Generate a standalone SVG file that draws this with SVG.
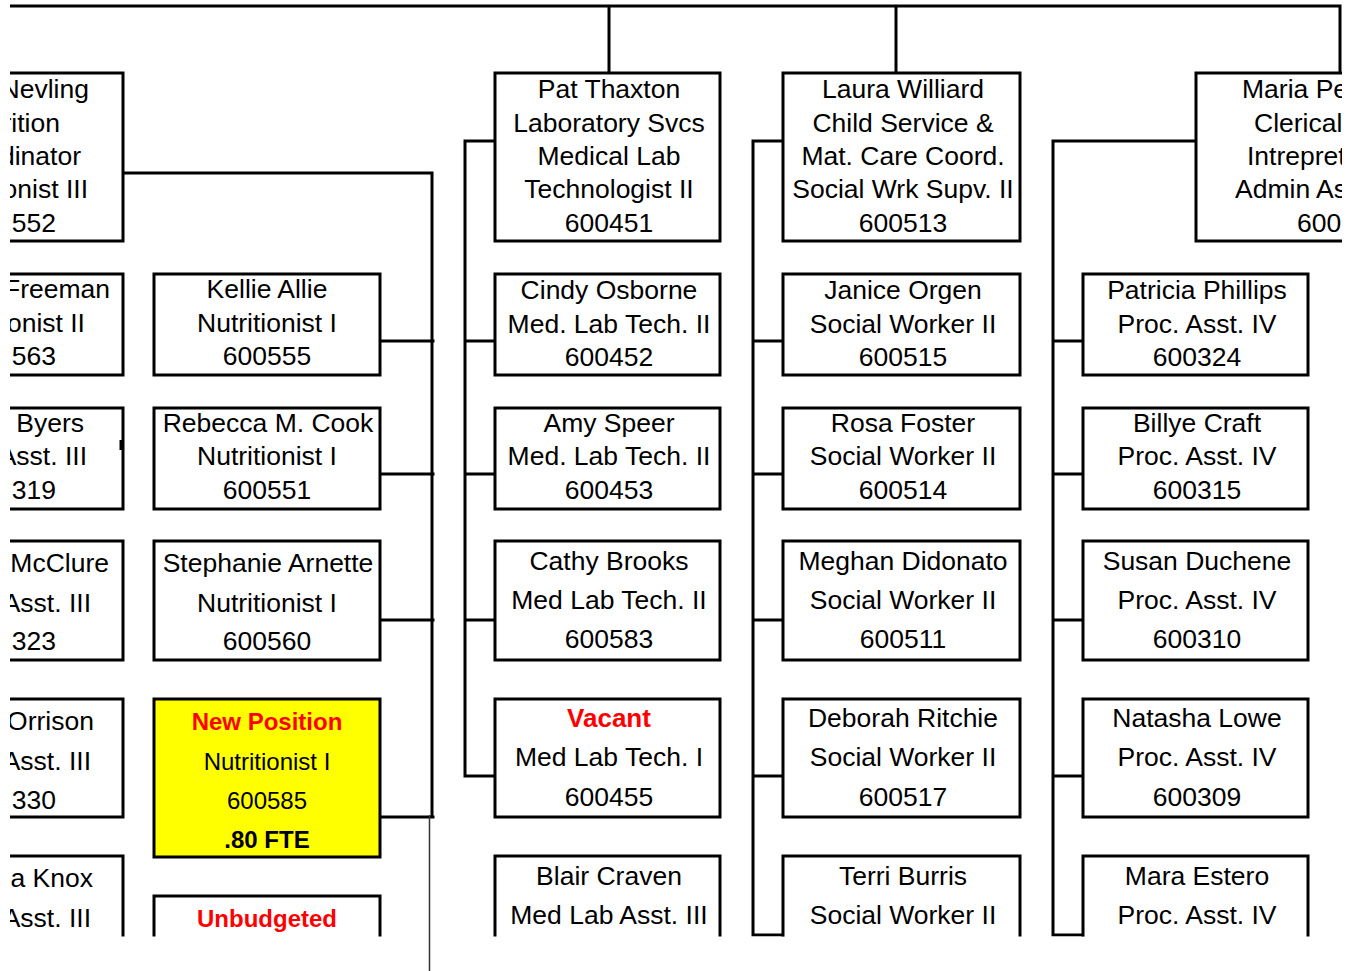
<svg xmlns="http://www.w3.org/2000/svg" width="1355" height="971" viewBox="0 0 1355 971">
  <style>
    .box { fill: #fff; stroke: #000; stroke-width: 3; }
    .yellow { fill: #ffff00; }
    .ln { stroke: #000; stroke-width: 3; fill: none; stroke-linecap: square; }
    .thin { stroke: #333; stroke-width: 1.5; fill: none; }
    text { font-family: "Liberation Sans", Arial, sans-serif; font-size: 26.5px; fill: #000; }
    .c { text-anchor: middle; }
    .e { text-anchor: end; }
    .s { text-anchor: start; }
    .b { font-weight: bold; font-size: 24px; }
    .b26 { font-weight: bold; font-size: 26px; }
    .m { font-size: 24px; }
    .red { fill: #ff0000; }
  </style>
  <defs>
    <clipPath id="page">
      <rect x="10" y="0" width="1332" height="936.5"/>
    </clipPath>
  </defs>

  <g clip-path="url(#page)">
    <!-- connectors -->
    <g id="connectors">
      <!-- top bar and drops -->
      <path class="ln" d="M10 6 H1340 M609 6 V73 M896 6 V73 M1340 6 V73"/>
      <!-- nutrition branch -->
      <path class="ln" d="M123 173 H432 V817 M380 341 H433 M380 474 H433 M380 620 H433 M380 817 H433"/>
      <!-- laboratory branch -->
      <path class="ln" d="M495 141 H465 V776 H495 M465 341 H495 M465 474 H495 M465 620 H495"/>
      <!-- social work branch -->
      <path class="ln" d="M783 141 H753 V935 H783 M753 341 H783 M753 474 H783 M753 620 H783 M753 776 H783"/>
      <!-- clerical branch -->
      <path class="ln" d="M1196 141 H1053 V935 H1083 M1053 341 H1083 M1053 474 H1083 M1053 620 H1083 M1053 776 H1083"/>
    </g>

    <!-- left column (partially off page) -->
    <g id="nevling">
      <rect class="box" x="-103" y="73" width="226" height="168"/>
      <text class="e" x="89" y="98">Nevling</text>
      <text class="e" x="60" y="132">rition</text>
      <text class="e" x="81" y="165">dinator</text>
      <text class="e" x="88" y="198">onist III</text>
      <text class="e" x="56" y="232">552</text>
    </g>
    <g id="freeman">
      <rect class="box" x="-103" y="274" width="226" height="101"/>
      <text class="e" x="110" y="298">Freeman</text>
      <text class="e" x="85" y="332">onist II</text>
      <text class="e" x="56" y="365">563</text>
    </g>
    <g id="byers">
      <rect class="box" x="-103" y="408" width="226" height="101"/>
      <rect x="119.5" y="440" width="2.5" height="10" fill="#000"/>
      <text class="e" x="84" y="432">Byers</text>
      <text class="e" x="87" y="465">Asst. III</text>
      <text class="e" x="56" y="499">319</text>
    </g>
    <g id="mcclure">
      <rect class="box" x="-103" y="541" width="226" height="119"/>
      <text class="e" x="109" y="572">McClure</text>
      <text class="e" x="91" y="612">Asst. III</text>
      <text class="e" x="56" y="650">323</text>
    </g>
    <g id="orrison">
      <rect class="box" x="-103" y="699" width="226" height="118"/>
      <text class="e" x="94" y="730">Orrison</text>
      <text class="e" x="91" y="770">Asst. III</text>
      <text class="e" x="56" y="809">330</text>
    </g>
    <g id="knox">
      <rect class="box" x="-103" y="856" width="226" height="120"/>
      <text class="e" x="93" y="887">a Knox</text>
      <text class="e" x="91" y="927">Asst. III</text>
    </g>

    <!-- nutritionists -->
    <g id="kellie-allie">
      <rect class="box" x="154" y="274" width="226" height="101"/>
      <text class="c" x="267" y="298">Kellie Allie</text>
      <text class="c" x="267" y="332">Nutritionist I</text>
      <text class="c" x="267" y="365">600555</text>
    </g>
    <g id="rebecca-cook">
      <rect class="box" x="154" y="408" width="226" height="101"/>
      <text class="c" x="268" y="432">Rebecca M. Cook</text>
      <text class="c" x="267" y="465">Nutritionist I</text>
      <text class="c" x="267" y="499">600551</text>
    </g>
    <g id="stephanie-arnette">
      <rect class="box" x="154" y="541" width="226" height="119"/>
      <text class="c" x="268" y="572">Stephanie Arnette</text>
      <text class="c" x="267" y="612">Nutritionist I</text>
      <text class="c" x="267" y="650">600560</text>
    </g>
    <g id="new-position">
      <rect class="box yellow" x="154" y="699" width="226" height="158"/>
      <text class="c b red" x="267" y="730">New Position</text>
      <text class="c m" x="267" y="770">Nutritionist I</text>
      <text class="c m" x="267" y="809">600585</text>
      <text class="c b" x="267" y="848">.80 FTE</text>
    </g>
    <g id="unbudgeted">
      <rect class="box" x="154" y="896" width="226" height="80"/>
      <text class="c b red" x="267" y="927">Unbudgeted</text>
    </g>

    <!-- laboratory -->
    <g id="pat-thaxton">
      <rect class="box" x="495" y="73" width="225" height="168"/>
      <text class="c" x="609" y="98">Pat Thaxton</text>
      <text class="c" x="609" y="132">Laboratory Svcs</text>
      <text class="c" x="609" y="165">Medical Lab</text>
      <text class="c" x="609" y="198">Technologist II</text>
      <text class="c" x="609" y="232">600451</text>
    </g>
    <g id="cindy-osborne">
      <rect class="box" x="495" y="274" width="225" height="101"/>
      <text class="c" x="609" y="299">Cindy Osborne</text>
      <text class="c" x="609" y="333">Med. Lab Tech. II</text>
      <text class="c" x="609" y="366">600452</text>
    </g>
    <g id="amy-speer">
      <rect class="box" x="495" y="408" width="225" height="101"/>
      <text class="c" x="609" y="432">Amy Speer</text>
      <text class="c" x="609" y="465">Med. Lab Tech. II</text>
      <text class="c" x="609" y="499">600453</text>
    </g>
    <g id="cathy-brooks">
      <rect class="box" x="495" y="541" width="225" height="119"/>
      <text class="c" x="609" y="570">Cathy Brooks</text>
      <text class="c" x="609" y="609">Med Lab Tech. II</text>
      <text class="c" x="609" y="648">600583</text>
    </g>
    <g id="vacant-lab">
      <rect class="box" x="495" y="699" width="225" height="118"/>
      <text class="c b26 red" x="609" y="727">Vacant</text>
      <text class="c" x="609" y="766">Med Lab Tech. I</text>
      <text class="c" x="609" y="806">600455</text>
    </g>
    <g id="blair-craven">
      <rect class="box" x="495" y="856" width="225" height="120"/>
      <text class="c" x="609" y="885">Blair Craven</text>
      <text class="c" x="609" y="924">Med Lab Asst. III</text>
    </g>

    <!-- social work -->
    <g id="laura-williard">
      <rect class="box" x="783" y="73" width="237" height="168"/>
      <text class="c" x="903" y="98">Laura Williard</text>
      <text class="c" x="903" y="132">Child Service &amp;</text>
      <text class="c" x="903" y="165">Mat. Care Coord.</text>
      <text class="c" x="903" y="198">Social Wrk Supv. II</text>
      <text class="c" x="903" y="232">600513</text>
    </g>
    <g id="janice-orgen">
      <rect class="box" x="783" y="274" width="237" height="101"/>
      <text class="c" x="903" y="299">Janice Orgen</text>
      <text class="c" x="903" y="333">Social Worker II</text>
      <text class="c" x="903" y="366">600515</text>
    </g>
    <g id="rosa-foster">
      <rect class="box" x="783" y="408" width="237" height="101"/>
      <text class="c" x="903" y="432">Rosa Foster</text>
      <text class="c" x="903" y="465">Social Worker II</text>
      <text class="c" x="903" y="499">600514</text>
    </g>
    <g id="meghan-didonato">
      <rect class="box" x="783" y="541" width="237" height="119"/>
      <text class="c" x="903" y="570">Meghan Didonato</text>
      <text class="c" x="903" y="609">Social Worker II</text>
      <text class="c" x="903" y="648">600511</text>
    </g>
    <g id="deborah-ritchie">
      <rect class="box" x="783" y="699" width="237" height="118"/>
      <text class="c" x="903" y="727">Deborah Ritchie</text>
      <text class="c" x="903" y="766">Social Worker II</text>
      <text class="c" x="903" y="806">600517</text>
    </g>
    <g id="terri-burris">
      <rect class="box" x="783" y="856" width="237" height="120"/>
      <text class="c" x="903" y="885">Terri Burris</text>
      <text class="c" x="903" y="924">Social Worker II</text>
    </g>

    <!-- clerical -->
    <g id="maria">
      <rect class="box" x="1196" y="73" width="226" height="168"/>
      <text class="s" x="1242" y="98">Maria Pe</text>
      <text class="s" x="1254" y="132">Clerical</text>
      <text class="s" x="1247" y="165">Intrepret</text>
      <text class="s" x="1235" y="198">Admin As</text>
      <text class="s" x="1297" y="232">600</text>
    </g>
    <g id="patricia-phillips">
      <rect class="box" x="1083" y="274" width="225" height="101"/>
      <text class="c" x="1197" y="299">Patricia Phillips</text>
      <text class="c" x="1197" y="333">Proc. Asst. IV</text>
      <text class="c" x="1197" y="366">600324</text>
    </g>
    <g id="billye-craft">
      <rect class="box" x="1083" y="408" width="225" height="101"/>
      <text class="c" x="1197" y="432">Billye Craft</text>
      <text class="c" x="1197" y="465">Proc. Asst. IV</text>
      <text class="c" x="1197" y="499">600315</text>
    </g>
    <g id="susan-duchene">
      <rect class="box" x="1083" y="541" width="225" height="119"/>
      <text class="c" x="1197" y="570">Susan Duchene</text>
      <text class="c" x="1197" y="609">Proc. Asst. IV</text>
      <text class="c" x="1197" y="648">600310</text>
    </g>
    <g id="natasha-lowe">
      <rect class="box" x="1083" y="699" width="225" height="118"/>
      <text class="c" x="1197" y="727">Natasha Lowe</text>
      <text class="c" x="1197" y="766">Proc. Asst. IV</text>
      <text class="c" x="1197" y="806">600309</text>
    </g>
    <g id="mara-estero">
      <rect class="box" x="1083" y="856" width="225" height="120"/>
      <text class="c" x="1197" y="885">Mara Estero</text>
      <text class="c" x="1197" y="924">Proc. Asst. IV</text>
    </g>
  </g>

  <!-- thin continuation line below the nutrition branch -->
  <g id="connectors-lower">
    <line class="thin" x1="429.5" y1="815" x2="429.5" y2="971"/>
  </g>
</svg>
